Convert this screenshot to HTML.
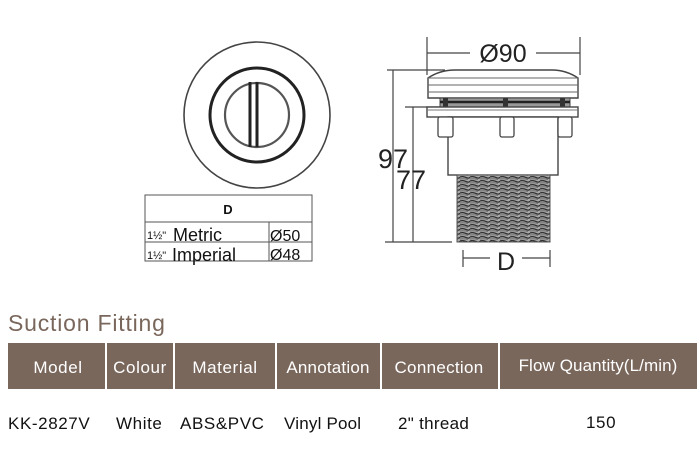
<!DOCTYPE html>
<html><head><meta charset="utf-8"><style>
body{margin:0;background:#fff;width:700px;height:460px;overflow:hidden;font-family:"Liberation Sans",sans-serif;}
</style></head><body>
<svg width="700" height="460" viewBox="0 0 700 460" xmlns="http://www.w3.org/2000/svg" font-family="Liberation Sans, sans-serif">
<defs>
<pattern id="thr" width="10" height="4" patternUnits="userSpaceOnUse">
<rect width="10" height="4" fill="#aaa"/>
<path d="M0 1 Q3 0 6 1.5 T10 1" stroke="#333" stroke-width="1.3" fill="none"/>
<path d="M0 3 Q4 2.5 8 3.5" stroke="#666" stroke-width="0.9" fill="none"/>
</pattern>
</defs>
<!-- front view -->
<circle cx="257" cy="115" r="73" fill="none" stroke="#444" stroke-width="1.6"/>
<circle cx="257" cy="115" r="47" fill="none" stroke="#222" stroke-width="3"/>
<circle cx="257" cy="115" r="32" fill="none" stroke="#555" stroke-width="2.2"/>
<line x1="250" y1="82" x2="250" y2="147" stroke="#222" stroke-width="3"/>
<line x1="257" y1="82" x2="257" y2="147" stroke="#222" stroke-width="3"/>
<!-- D table -->
<g stroke="#555" stroke-width="1" fill="none">
<rect x="145" y="195" width="167" height="66"/>
<line x1="145" y1="222" x2="312" y2="222"/>
<line x1="145" y1="242" x2="312" y2="242"/>
<line x1="269" y1="222" x2="269" y2="261"/>
</g>
<text x="228" y="214" font-size="13" font-weight="bold" text-anchor="middle" fill="#111">D</text>
<text x="147" y="239" font-size="11" fill="#111">1½"</text>
<text x="173" y="241" font-size="18" fill="#111">Metric</text>
<text x="270" y="241" font-size="16" fill="#111">Ø50</text>
<text x="147" y="259" font-size="11" fill="#111">1½"</text>
<text x="172" y="261" font-size="18" fill="#111">Imperial</text>
<text x="270" y="260" font-size="16" fill="#111">Ø48</text>
<!-- side view -->
<g stroke="#444" stroke-width="1.2" fill="none">
<line x1="427" y1="37" x2="427" y2="75"/>
<line x1="580" y1="37" x2="580" y2="75"/>
<line x1="427" y1="53" x2="470" y2="53"/>
<line x1="536" y1="53" x2="580" y2="53"/>
<line x1="387" y1="70" x2="445" y2="70"/>
<line x1="385" y1="242" x2="452" y2="242"/>
<line x1="393" y1="70" x2="393" y2="242"/>
<line x1="405" y1="107" x2="445" y2="107"/>
<line x1="413" y1="107" x2="413" y2="242"/>
<line x1="463" y1="250" x2="463" y2="267"/>
<line x1="550" y1="250" x2="550" y2="267"/>
<line x1="463" y1="258" x2="490" y2="258"/>
<line x1="522" y1="258" x2="550" y2="258"/>
</g>
<text x="503" y="62" font-size="25" text-anchor="middle" fill="#222">Ø90</text>
<text x="378" y="168" font-size="27" fill="#222">97</text>
<text x="396" y="189" font-size="27" fill="#222">77</text>
<text x="506" y="270" font-size="25" text-anchor="middle" fill="#222">D</text>
<!-- cap -->
<path d="M428 78 Q440 70 455 70 L552 70 Q566 70 578 78 L578 98 L428 98 Z" fill="#fff" stroke="#444" stroke-width="1.4"/>
<line x1="428" y1="78" x2="578" y2="78" stroke="#666"/>
<line x1="428" y1="85" x2="578" y2="85" stroke="#666"/>
<line x1="428" y1="92" x2="578" y2="92" stroke="#666"/>
<rect x="440" y="98" width="130" height="9" fill="#999" stroke="#444"/>
<line x1="440" y1="102" x2="570" y2="102" stroke="#222" stroke-width="2.5"/>
<rect x="443" y="98" width="5" height="9" fill="#333"/>
<rect x="503" y="98" width="5" height="9" fill="#333"/>
<rect x="560" y="98" width="5" height="9" fill="#333"/>
<rect x="427" y="107" width="151" height="10" fill="#fff" stroke="#444" stroke-width="1.4"/>
<line x1="427" y1="110" x2="578" y2="110" stroke="#777"/>
<!-- body -->
<rect x="448" y="117" width="110" height="58" fill="#fff" stroke="#444" stroke-width="1.4"/>
<rect x="438" y="117" width="15" height="20" rx="2" fill="#fff" stroke="#444" stroke-width="1.3"/>
<rect x="500" y="117" width="14" height="20" rx="2" fill="#fff" stroke="#444" stroke-width="1.3"/>
<rect x="558" y="117" width="14" height="20" rx="2" fill="#fff" stroke="#444" stroke-width="1.3"/>
<rect x="457" y="175" width="93" height="67" fill="url(#thr)" stroke="#555"/>
<!-- title -->
<text x="8" y="331" font-size="23" letter-spacing="0.8" fill="#7a675c">Suction Fitting</text>
<g fill="#7a675c">
<rect x="8" y="343" width="97" height="46"/>
<rect x="107" y="343" width="66" height="46"/>
<rect x="175" y="343" width="100" height="46"/>
<rect x="277" y="343" width="103" height="46"/>
<rect x="382" y="343" width="116" height="46"/>
<rect x="500" y="343" width="197" height="46"/>
</g>
<g fill="#fff" font-size="17" text-anchor="middle" letter-spacing="0.6">
<text x="58" y="373">Model</text>
<text x="140" y="373">Colour</text>
<text x="225" y="373">Material</text>
<text x="328" y="373" letter-spacing="0.2">Annotation</text>
<text x="439" y="373" letter-spacing="0.3">Connection</text>
<text x="598" y="371" letter-spacing="0.1">Flow Quantity(L/min)</text>
</g>
<g fill="#111" font-size="17" letter-spacing="0.6">
<text x="8" y="429">KK-2827V</text>
<text x="116" y="429">White</text>
<text x="180" y="429">ABS&amp;PVC</text>
<text x="284" y="429" letter-spacing="0.2">Vinyl Pool</text>
<text x="398" y="429" letter-spacing="0.3">2" thread</text>
<text x="586" y="428">150</text>
</g>
</svg>
</body></html>
